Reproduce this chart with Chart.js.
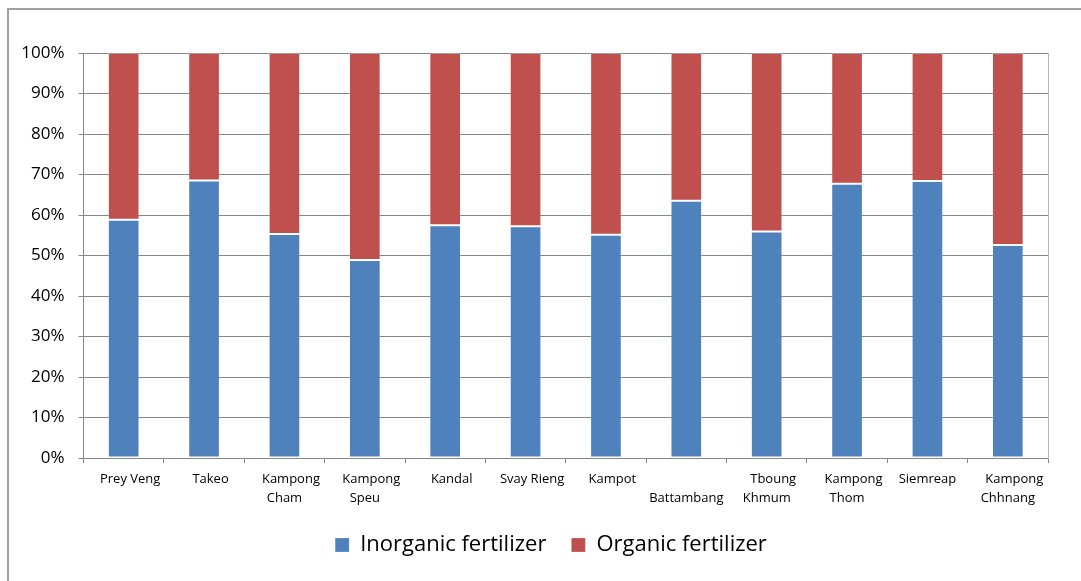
<!DOCTYPE html>
<html>
<head>
<meta charset="utf-8">
<title>Fertilizer use by province</title>
<script src="https://cdn.jsdelivr.net/npm/chart.js@4.4.1/dist/chart.umd.min.js"></script>
<style>
  html, body { margin: 0; padding: 0; background: #fff; overflow: hidden; }
  #frame { position: absolute; left: 7px; top: 8px; width: 1200px; height: 700px; border: 2px solid #a0a0a0; }
  #chart { position: absolute; left: 0; top: 0; }
</style>
</head>
<body>
<div id="frame"></div>
<canvas id="chart" width="1081" height="581"></canvas>
<script>
// provinces (two-line names are split into arrays; first lines carry a leading em space)
const provinces = [
  '\u2003Prey Veng', '\u2003Takeo', ['\u2003Kampong', 'Cham'], ['\u2003Kampong', 'Speu'],
  '\u2003Kandal', '\u2003Svay Rieng', '\u2003Kampot', ['', 'Battambang'],
  ['\u2003Tboung', 'Khmum'], ['\u2003Kampong', 'Thom'], 'Siemreap', ['\u2003Kampong', 'Chhnang']
];

// share of households using each fertilizer type, %
const inorganic = [58.8, 68.5, 55.3, 48.9, 57.5, 57.2, 55.1, 63.5, 55.9, 67.7, 68.4, 52.6];
const organic   = [41.2, 31.5, 44.7, 51.1, 42.5, 42.8, 44.9, 36.5, 44.1, 32.3, 31.6, 47.4];

const seriesNames = ['Inorganic fertilizer', 'Organic fertilizer'];
const seriesColors = ['#4F81BD', '#C0504D'];
const yTicks = [0, 10, 20, 30, 40, 50, 60, 70, 80, 90, 100];

const gridColor = '#868686';
const font = 'Open Sans';

const ctx = document.getElementById('chart').getContext('2d');
new Chart(ctx, {
  type: 'bar',
  data: {
    labels: provinces,
    datasets: [
      {
        label: seriesNames[0],
        data: inorganic,
        backgroundColor: seriesColors[0],
        borderColor: 'rgba(255,255,255,0.2)',
        borderWidth: 1,
        borderSkipped: false
      },
      {
        label: seriesNames[1],
        data: organic,
        backgroundColor: seriesColors[1],
        borderColor: 'rgba(255,255,255,0.2)',
        borderWidth: 1,
        borderSkipped: false
      }
    ]
  },
  options: {
    responsive: false,
    animation: false,
    datasets: {
      bar: { categoryPercentage: 1, barPercentage: 0.394 }
    },
    layout: {
      padding: { left: 21, right: 0, top: 53, bottom: 15 }
    },
    plugins: {
      tooltip: { enabled: false },
      legend: {
        position: 'bottom',
        labels: {
          boxWidth: 14,
          boxHeight: 14,
          padding: 25,
          color: '#000',
          font: { family: font, size: 22 }
        }
      }
    },
    scales: {
      x: {
        stacked: true,
        grid: {
          drawOnChartArea: false,
          drawTicks: true,
          tickLength: 5,
          color: gridColor
        },
        border: { color: gridColor, width: 1 },
        ticks: {
          color: '#000',
          padding: 7,
          maxRotation: 0,
          autoSkip: false,
          font: { family: font, size: 13, lineHeight: 1.45 }
        },
        afterFit(scale) { scale.height = 51; }
      },
      y: {
        stacked: true,
        min: 0,
        max: 100,
        afterBuildTicks(scale) { scale.ticks = yTicks.map(v => ({ value: v })); },
        grid: {
          color: gridColor,
          tickLength: 5,
          lineWidth: 1
        },
        border: { color: gridColor, width: 1 },
        ticks: {
          color: '#000',
          padding: 14,
          font: { family: font, size: 17 },
          callback: v => v + '%'
        },
        afterFit(scale) { scale.width = 62.5; }
      },
      // plot area right edge
      yRight: {
        position: 'right',
        min: 0,
        max: 100,
        grid: { drawOnChartArea: false, drawTicks: false },
        border: { color: '#b8b8b8', width: 1 },
        ticks: { display: false },
        afterFit(scale) { scale.width = 33; }
      }
    }
  }
});
</script>
</body>
</html>
